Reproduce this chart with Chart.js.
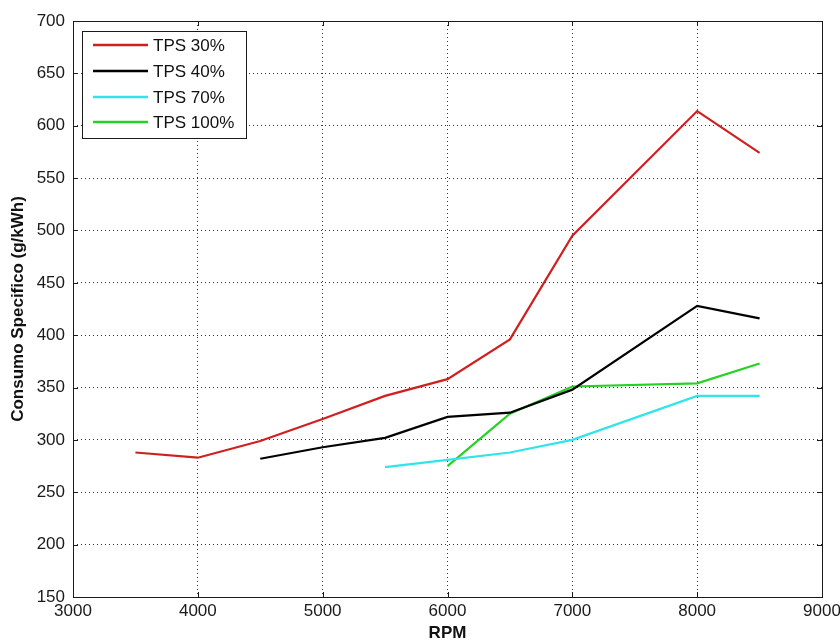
<!DOCTYPE html>
<html>
<head>
<meta charset="utf-8">
<script src="https://cdn.jsdelivr.net/npm/chart.js@4.4.1/dist/chart.umd.min.js"></script>
<style>
  html, body { margin: 0; padding: 0; background: #ffffff; }
  #wrap { width: 840px; height: 644px; }
</style>
</head>
<body>
<div id="wrap"><canvas id="c" width="840" height="644"></canvas></div>
<script>
// ---- data ----
const seriesLabels = ['TPS 30%', 'TPS 40%', 'TPS 70%', 'TPS 100%'];

const rpm30 = [3500, 4000, 4500, 5000, 5500, 6000, 6500, 7000, 8000, 8500];
const tps30 = [288, 283, 299, 320, 342, 358, 396, 495, 614, 574];

const rpm40 = [4500, 5000, 5500, 6000, 6500, 7000, 8000, 8500];
const tps40 = [282, 293, 302, 322, 326, 348, 428, 416];

const rpm70 = [5500, 6000, 6500, 7000, 8000, 8500];
const tps70 = [274, 281, 288, 300, 342, 342];

const rpm100 = [6000, 6500, 7000, 8000, 8500];
const tps100 = [275, 325, 351, 354, 373];

const xTicks = [3000, 4000, 5000, 6000, 7000, 8000, 9000];
const yTicks = [150, 200, 250, 300, 350, 400, 450, 500, 550, 600, 650, 700];

const xTitle = 'RPM';
const yTitle = 'Consumo Specifico (g/kWh)';

// ---- styles ----
const colors = ['#d01f1f', '#000000', '#30e4ea', '#26d126'];
const FONT = "'Liberation Sans', Arial, Helvetica, sans-serif";

function pts(xs, ys) { return xs.map((x, i) => ({ x: x, y: ys[i] })); }

const datasets = [
  pts(rpm30, tps30), pts(rpm40, tps40), pts(rpm70, tps70), pts(rpm100, tps100)
].map((d, i) => ({
  label: seriesLabels[i],
  data: d,
  borderColor: colors[i],
  backgroundColor: colors[i],
  borderWidth: 2.2,
  pointRadius: 0,
  tension: 0,
  fill: false
}));

// Box, inward ticks and legend (MATLAB style)
const matlabFrame = {
  id: 'matlabFrame',
  afterDatasetsDraw(chart) {
    const ctx = chart.ctx;
    const a = chart.chartArea;
    const xs = chart.scales.x, ys = chart.scales.y;
    ctx.save();
    ctx.strokeStyle = '#1a1a1a';
    ctx.lineWidth = 1;
    ctx.setLineDash([]);
    // inward ticks
    const tl = 5;
    ctx.beginPath();
    xTicks.forEach(v => {
      const px = Math.round(xs.getPixelForValue(v)) + 0.5;
      ctx.moveTo(px, a.bottom); ctx.lineTo(px, a.bottom - tl);
      ctx.moveTo(px, a.top); ctx.lineTo(px, a.top + tl);
    });
    yTicks.forEach(v => {
      const py = Math.round(ys.getPixelForValue(v)) + 0.5;
      ctx.moveTo(a.left, py); ctx.lineTo(a.left + tl, py);
      ctx.moveTo(a.right, py); ctx.lineTo(a.right - tl, py);
    });
    ctx.stroke();
    // box
    ctx.strokeRect(Math.round(a.left) + 0.5, Math.round(a.top) + 0.5,
                   Math.round(a.right - a.left), Math.round(a.bottom - a.top));

    // legend
    const lx = 82, ly = 31, lw = 164, lh = 107;
    ctx.fillStyle = '#ffffff';
    ctx.fillRect(lx, ly, lw, lh);
    ctx.strokeStyle = '#1a1a1a';
    ctx.strokeRect(lx + 0.5, ly + 0.5, lw, lh);
    const rows = [45, 71, 97, 122];
    ctx.font = '17px ' + FONT;
    ctx.textBaseline = 'middle';
    ctx.textAlign = 'left';
    chart.data.datasets.forEach((ds, i) => {
      ctx.strokeStyle = ds.borderColor;
      ctx.lineWidth = 2.5;
      ctx.beginPath();
      ctx.moveTo(93, rows[i]); ctx.lineTo(148, rows[i]);
      ctx.stroke();
      ctx.fillStyle = '#111111';
      ctx.fillText(ds.label, 153, rows[i] + 1);
    });
    ctx.restore();
  }
};

new Chart(document.getElementById('c'), {
  type: 'line',
  data: { datasets: datasets },
  plugins: [matlabFrame],
  options: {
    responsive: false,
    animation: false,
    devicePixelRatio: 1,
    layout: { padding: { left: 0, top: 21, right: 18, bottom: 0 } },
    plugins: {
      legend: { display: false },
      tooltip: { enabled: false }
    },
    scales: {
      x: {
        type: 'linear',
        min: xTicks[0],
        max: xTicks[xTicks.length - 1],
        afterBuildTicks(scale) { scale.ticks = xTicks.map(v => ({ value: v })); },
        afterFit(scale) { scale.height = 47; scale.paddingLeft = 0; scale.paddingRight = 0; },
        ticks: {
          autoSkip: false,
          maxRotation: 0,
          padding: 4,
          color: '#1a1a1a',
          font: { family: FONT, size: 17 },
          callback: v => String(v)
        },
        grid: { color: '#333333', lineWidth: 1, drawTicks: false },
        border: { display: false, dash: [1, 3] },
        title: {
          display: true,
          text: xTitle,
          color: '#111111',
          font: { family: FONT, size: 17, weight: 'bold' },
          padding: { top: 0, bottom: 0 }
        }
      },
      y: {
        type: 'linear',
        min: yTicks[0],
        max: yTicks[yTicks.length - 1],
        afterBuildTicks(scale) { scale.ticks = yTicks.map(v => ({ value: v })); },
        afterFit(scale) { scale.width = 73; scale.paddingTop = 0; scale.paddingBottom = 0; },
        ticks: {
          autoSkip: false,
          padding: 8,
          color: '#1a1a1a',
          font: { family: FONT, size: 17 },
          callback: v => String(v)
        },
        grid: { color: '#333333', lineWidth: 1, drawTicks: false },
        border: { display: false, dash: [1, 3] },
        title: {
          display: true,
          text: yTitle,
          color: '#111111',
          font: { family: FONT, size: 17, weight: 'bold' },
          padding: { top: 8, bottom: 0 }
        }
      }
    }
  }
});
</script>
</body>
</html>
